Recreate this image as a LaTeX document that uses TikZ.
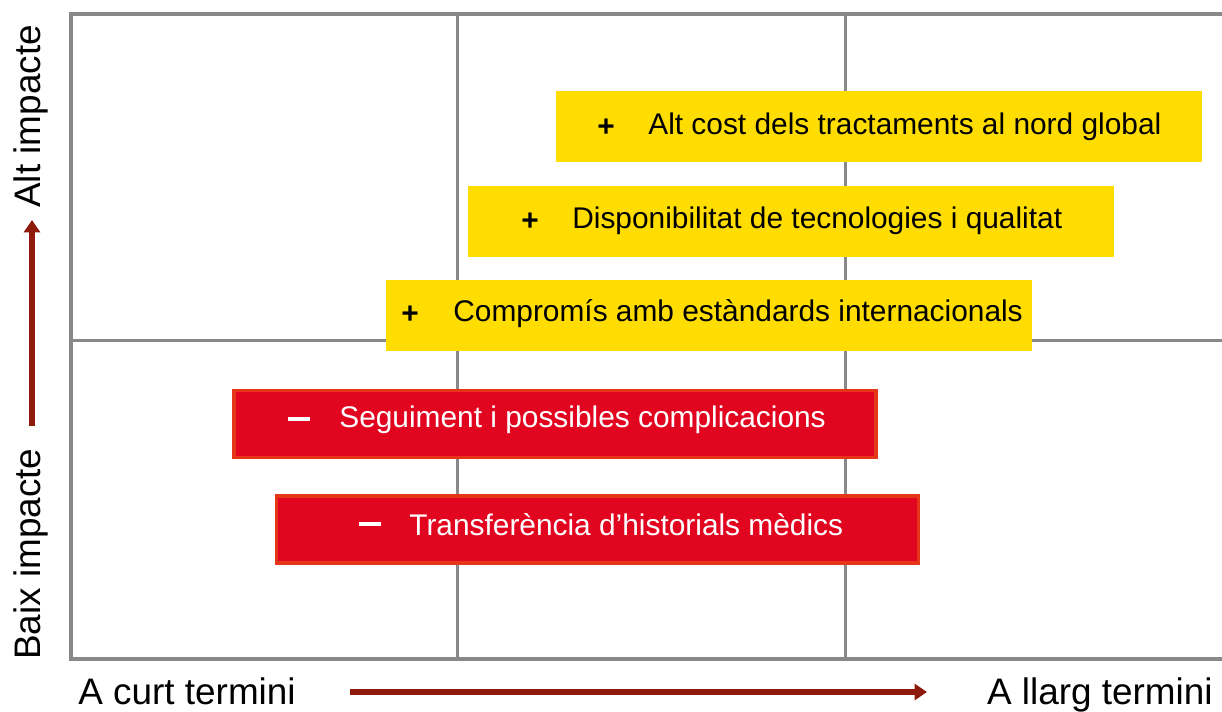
\documentclass[tikz,border=0pt]{standalone}
\usepackage{fontspec}
\setmainfont{Liberation Sans}
\usepackage{tikz}
\usetikzlibrary{arrows.meta}
\definecolor{gridgray}{HTML}{888888}
\definecolor{prosyellow}{HTML}{FFDD00}
\definecolor{consred}{HTML}{E2051F}
\definecolor{consline}{HTML}{E6361A}
\definecolor{axisred}{HTML}{8E1A0E}
\newcommand{\minussign}{\rule{0.44cm}{0.07cm}}
\tikzset{
	probox/.style={fill=prosyellow, minimum width=646*0.02cm, minimum height=71*0.02cm, inner sep=0pt},
	conbox/.style={fill=consred, draw=consline, line width=2pt, minimum width=642*0.02cm, minimum height=67*0.02cm, inner sep=0pt},
	boxtext/.style={anchor=west, font=\fontsize{17}{20}\selectfont, inner sep=0pt},
	signtext/.style={boxtext, font=\bfseries\fontsize{17}{20}\selectfont},
	axislabel/.style={font=\fontsize{21}{25}\selectfont, inner sep=0pt},
	axisarrow/.style={axisred, line width=3pt, -{Triangle[length=7pt,width=9pt]}}
}
\begin{document}
\begin{tikzpicture}[x=0.02cm, y=-0.02cm]
			%%%%% START %%%%%
			\useasboundingbox (0, 0) rectangle (1222, 711);
			
			% grid
			\draw[gridgray, line width=1.7pt] (457, 14) -- (457, 659);
			\draw[gridgray, line width=1.7pt] (845, 14) -- (845, 659);
			\draw[gridgray, line width=1.7pt] (71, 340) -- (1222, 340);
			\draw[gridgray, line width=2.2pt] (1222, 14) -- (71, 14) -- (71, 659) -- (1222, 659);
			
			% pros
			\node[probox] (cost) at (879, 126.5) {};
			\node[signtext] at (597, 128) {+};
			\node[boxtext] (costtext) at (648, 127) {Alt cost dels tractaments al nord global};
			
			\node[probox] (tecno) at (791, 221) {};
			\node[signtext] at (521, 222) {+};
			\node[boxtext] (tecnotext) at (572, 221) {Disponibilitat de tecnologies i qualitat};
			
			\node[probox] (estand) at (709, 315.5) {};
			\node[signtext] at (401, 315) {+};
			\node[boxtext] (estandtext) at (453, 314) {Compromís amb estàndards internacionals};
			
			% cons
			\node[conbox] (seguiment) at (555, 424) {};
			\node[signtext, white] at (288, 419) {\minussign};
			\node[boxtext, white] (seguimenttext) at (339, 420) {Seguiment i possibles complicacions};
			
			\node[conbox] (historial) at (597.5, 529.5) {};
			\node[signtext, white] at (359, 524) {\minussign};
			\node[boxtext, white] (historialtext) at (409, 525) {Transferència d’historials mèdics};
			
			% axes
			\node[axislabel, anchor=base west] (curt) at (78, 704) {A curt termini};
			\node[axislabel, anchor=base east] (llarg) at (1213, 704) {A llarg termini};
			\coordinate (harrowstart) at (350, 692);
			\coordinate (harrowend) at (927, 692);
			\draw[axisarrow] (harrowstart) -- (harrowend);
			
			\node[axislabel, rotate=90, anchor=base west] (baix) at (40, 660) {Baix impacte};
			\node[axislabel, rotate=90, anchor=base west] (alt) at (40, 208) {Alt impacte};
			\coordinate (varrowstart) at (32, 426);
			\coordinate (varrowend) at (32, 220);
			\draw[axisarrow] (varrowstart) -- (varrowend);
			%%%%% END %%%%%
\end{tikzpicture}
\end{document}
